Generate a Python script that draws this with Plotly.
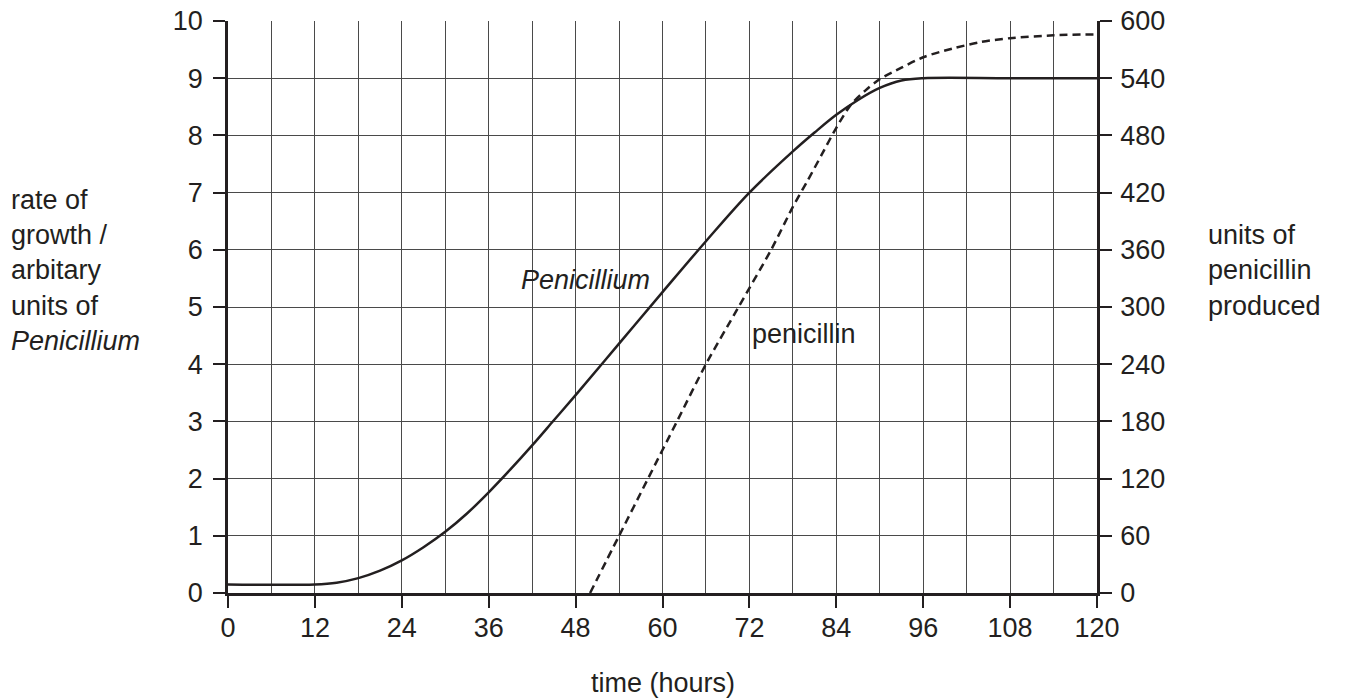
import plotly.graph_objects as go

# ---- data ----
penicillium_hours = [0, 12, 15, 18, 21, 24, 27, 30, 33, 36, 39, 42, 45, 48, 54, 60, 66, 72, 78, 81, 84, 87, 90, 93, 96, 108, 120]
penicillium_growth = [0.15, 0.15, 0.18, 0.26, 0.39, 0.57, 0.8, 1.07, 1.39, 1.76, 2.16, 2.58, 3.02, 3.46, 4.36, 5.26, 6.15, 7.0, 7.72, 8.05, 8.36, 8.62, 8.83, 8.96, 9.0, 9.0, 9.0]

penicillin_hours = [50, 54, 58, 62, 66, 70.5, 75, 78, 80, 82, 84, 86, 88, 90, 93, 96, 100, 104, 108, 114, 120]
penicillin_units = [0, 60, 120, 180, 240, 300, 360, 405, 432, 460, 488, 512, 527, 539, 551, 562, 571, 578, 582, 585, 586]

x_ticks = [0, 12, 24, 36, 48, 60, 72, 84, 96, 108, 120]
left_ticks = list(range(0, 11))
right_ticks = [0, 60, 120, 180, 240, 300, 360, 420, 480, 540, 600]

left_title_lines = ["rate of", "growth /", "arbitary", "units of", "<i>Penicillium</i>"]
right_title_lines = ["units of", "penicillin", "produced"]

FONT = "Liberation Sans, Arial, sans-serif"
FS = 27
INK = "#231f20"
GRID = "#4a4a4a"

fig = go.Figure()
fig.add_trace(go.Scatter(
    x=penicillium_hours, y=penicillium_growth, mode="lines",
    line=dict(color=INK, width=2.5, shape="spline", smoothing=1.0),
    yaxis="y", showlegend=False, hoverinfo="skip"))
fig.add_trace(go.Scatter(
    x=penicillin_hours, y=penicillin_units, mode="lines",
    line=dict(color=INK, width=2.5, dash="8px,5px", shape="spline", smoothing=0.8),
    yaxis="y2", showlegend=False, hoverinfo="skip"))

# page body has an 8px margin; compensate so the plot lands where the reference has it
OFF = 8
W, H = 1345 - 2 * OFF, 700 - OFF
PLOT_L, PLOT_R, PLOT_T, PLOT_B = 228, 1097, 21, 593   # reference pixel coords
L = PLOT_L - OFF
R = W - (PLOT_R - OFF)
T = PLOT_T - OFF
B = H - (PLOT_B - OFF)
pw = PLOT_R - PLOT_L
ph = PLOT_B - PLOT_T

def px_to_paper_x(px):
    return (px - PLOT_L) / pw

def px_to_paper_y(py):
    return 1 - (py - PLOT_T) / ph

annotations = []
annotations.append(dict(x=49.4, y=5.48, xref="x", yref="y", text="<i>Penicillium</i>",
                        showarrow=False, font=dict(size=FS, color=INK, family=FONT)))
annotations.append(dict(x=79.5, y=4.53, xref="x", yref="y", text="penicillin",
                        showarrow=False, font=dict(size=FS, color=INK, family=FONT)))
for i, t in enumerate(left_title_lines):
    base = 209 + i * 35.2
    annotations.append(dict(x=px_to_paper_x(9), y=px_to_paper_y(base - 9), xref="paper", yref="paper",
                            text=t, showarrow=False, xanchor="left", yanchor="middle",
                            font=dict(size=FS, color=INK, family=FONT)))
for i, t in enumerate(right_title_lines):
    base = 243.5 + i * 35.8
    annotations.append(dict(x=px_to_paper_x(1206), y=px_to_paper_y(base - 9), xref="paper", yref="paper",
                            text=t, showarrow=False, xanchor="left", yanchor="middle",
                            font=dict(size=FS, color=INK, family=FONT)))
annotations.append(dict(x=60, y=px_to_paper_y(683), xref="x", yref="paper", text="time (hours)",
                        showarrow=False, xanchor="center", yanchor="middle",
                        font=dict(size=FS, color=INK, family=FONT)))

fig.update_layout(
    width=W, height=H,
    margin=dict(l=L, r=R, t=T, b=B, autoexpand=False),
    paper_bgcolor="white", plot_bgcolor="white",
    font=dict(family=FONT, size=FS, color=INK),
    xaxis=dict(range=[0, 120], tickvals=x_ticks, ticktext=[str(v) for v in x_ticks],
               showgrid=True, gridcolor=GRID, gridwidth=1,
               minor=dict(dtick=6, tick0=0, showgrid=True, gridcolor=GRID, gridwidth=1, ticks=""),
               showline=True, linecolor=INK, linewidth=2.5,
               ticks="outside", ticklen=12, tickwidth=2, tickcolor=INK,
               ticklabelstandoff=-3, ticklabeloverflow="allow",
               zeroline=False, fixedrange=True),
    yaxis=dict(range=[0, 10], tickvals=left_ticks, ticktext=[str(v) for v in left_ticks],
               showgrid=True, gridcolor=GRID, gridwidth=1,
               showline=True, linecolor=INK, linewidth=2.5,
               ticks="outside", ticklen=12, tickwidth=2, tickcolor=INK,
               ticklabelstandoff=5, ticklabeloverflow="allow",
               zeroline=False, fixedrange=True),
    yaxis2=dict(range=[0, 600], tickvals=right_ticks, ticktext=[str(v) for v in right_ticks],
                overlaying="y", side="right", showgrid=False,
                showline=True, linecolor=INK, linewidth=2.5,
                ticks="outside", ticklen=12, tickwidth=2, tickcolor=INK,
                ticklabelstandoff=3, ticklabeloverflow="allow",
                zeroline=False, fixedrange=True),
    annotations=annotations,
)

fig.write_html("out.html")
